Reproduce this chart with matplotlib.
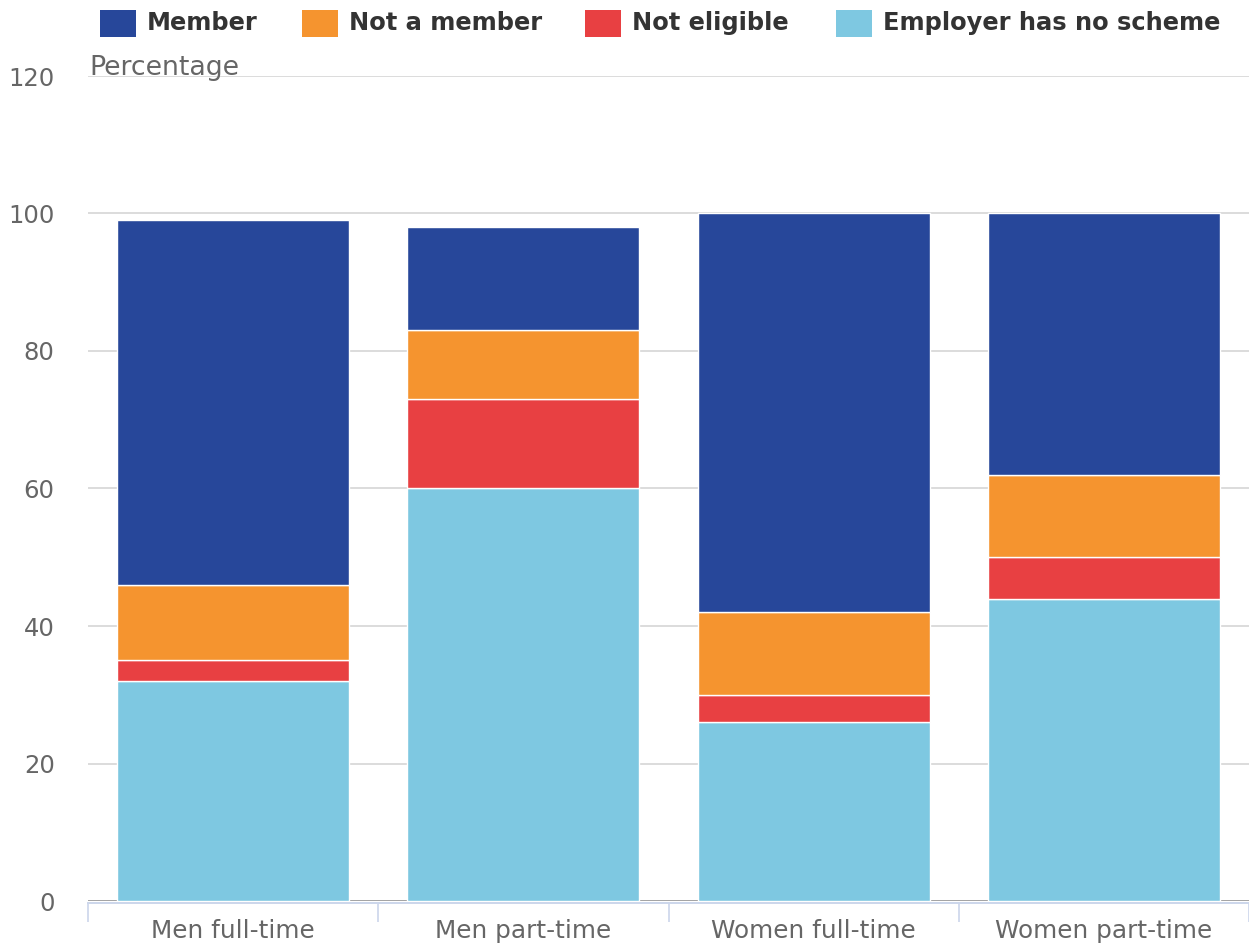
import matplotlib
matplotlib.use("Agg")
import matplotlib.pyplot as plt
from matplotlib.patches import Rectangle
from matplotlib.ticker import FixedLocator
import numpy as np

plt.rcParams["font.family"] = ["DejaVu Sans"]

categories = ["Men full-time", "Men part-time", "Women full-time", "Women part-time"]
series_names = ["Employer has no scheme", "Not eligible", "Not a member", "Member"]
no_scheme = [32, 60, 26, 44]
not_eligible = [3, 13, 4, 6]
not_member = [11, 10, 12, 12]
member = [53, 15, 58, 38]
colors = {"Member": "#27479a", "Not a member": "#f5942f",
          "Not eligible": "#e84042", "Employer has no scheme": "#7ec8e1"}
legend_order = ["Member", "Not a member", "Not eligible", "Employer has no scheme"]
yticks = [0, 20, 40, 60, 80, 100, 120]

W, H = 1249, 946
fig = plt.figure(figsize=(W / 100, H / 100), dpi=100)
ax = fig.add_axes([88 / W, (H - 901) / H, (W - 88) / W, (901 - 76) / H])

x = np.arange(len(categories))
bottom = np.zeros(len(categories))
for name, vals in zip(series_names, [no_scheme, not_eligible, not_member, member]):
    ax.bar(x, vals, width=0.8, bottom=bottom, color=colors[name],
           edgecolor="white", linewidth=1.0, zorder=3)
    bottom += np.array(vals)

ax.set_xlim(-0.5, len(categories) - 0.5)
ax.set_ylim(0, 120)
ax.set_yticks(yticks)
ax.set_yticklabels([str(t) for t in yticks])
for t in yticks:
    ax.axhline(t, color="#888888" if t == 0 else "#d9d9d9",
               lw=1.8 if t == 0 else 1.3, zorder=1)

ax.set_xticks(x)
ax.set_xticklabels(categories)
ax.xaxis.set_minor_locator(FixedLocator(np.arange(-0.5, len(categories), 1.0)))
ax.tick_params(axis="x", which="major", length=0, pad=12, labelsize=17.8, labelcolor="#666666")
ax.tick_params(axis="x", which="minor", length=14, width=1.2, color="#ccd6eb")
ax.tick_params(axis="y", length=0, pad=24, labelsize=17.5, labelcolor="#666666")

for s in ["top", "right", "left"]:
    ax.spines[s].set_visible(False)
ax.spines["bottom"].set_color("#ccd6eb")
ax.spines["bottom"].set_linewidth(1.4)
ax.spines["bottom"].set_position(("outward", 1.2))

fig.text(89 / W, (H - 75) / H, "Percentage", fontsize=19.3, color="#666666",
         ha="left", va="baseline")

# legend
patch_x = [100, 302, 585, 836]
for px, name in zip(patch_x, legend_order):
    fig.patches.append(Rectangle((px / W, (H - 37) / H), 36 / W, 27 / H,
                                 transform=fig.transFigure, facecolor=colors[name],
                                 edgecolor="none"))
    fig.text((px + 47) / W, (H - 23) / H, name, fontsize=17.4, fontweight="bold",
             color="#333333", ha="left", va="center")

fig.savefig("out.png", dpi=100)
